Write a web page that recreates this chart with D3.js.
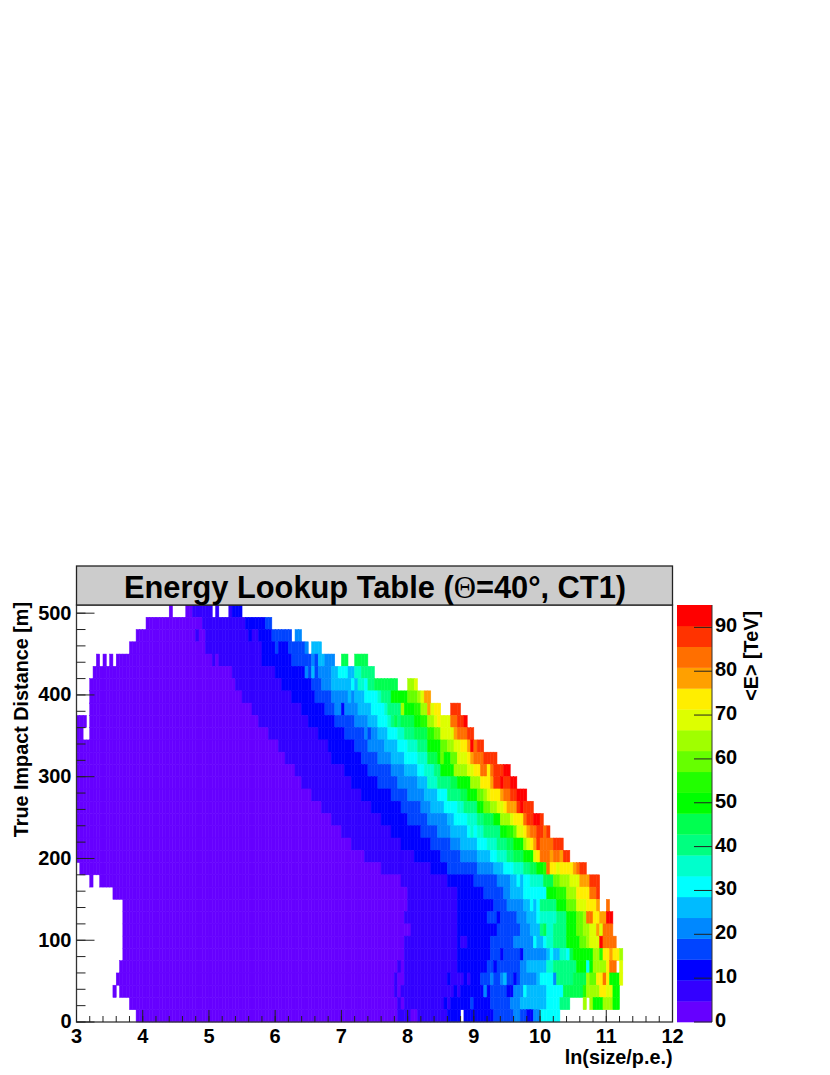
<!DOCTYPE html>
<html lang="en">
<meta charset="utf-8">
<style>
  html, body { margin: 0; background: #fff; }
  text { font-family: "Liberation Sans", Arial, sans-serif; font-weight: bold; fill: #000; }
</style>
<body>
<svg width="830" height="1075"></svg>
<script src="https://d3js.org/d3.v7.min.js"></script>
<script>
// title and axis text
let titleText = 'Energy Lookup Table ('
let titleAngle = 'Θ'
let titleRest = '=40°, CT1)'
let xTitle = 'ln(size/p.e.)'
let yTitle = 'True Impact Distance [m]'
let zTitle = '<E> [TeV]'

// ticks
let xMajor = [3, 4, 5, 6, 7, 8, 9, 10, 11, 12]
let xMinor = d3.range(3, 12.01, 0.2)
let yMajor = [0, 100, 200, 300, 400, 500]
let yMinor = d3.range(0, 501, 20)
let zMajor = [0, 10, 20, 30, 40, 50, 60, 70, 80, 90]

// colour steps of the palette, lowest first
let paletteSteps = ['#6600ff', '#3300ff', '#0000ff', '#0044ff', '#0088ff',
                    '#00bbff', '#00ffff', '#00ffcc', '#00ff80', '#00ff50',
                    '#00ff00', '#22ff00', '#66ff00', '#a0ff00', '#ddff00',
                    '#ffee00', '#ffa000', '#ff6f00', '#ff3300', '#ff0000']

let binWidth = 0.05    // ln(size) per column
let rowHeight = 15     // metres per row

// mean energy read row by row, from the top row (495-510 m) down to 0-15 m
// each row: first column, <E> in TeV, next column, <E>, ..., last column
// null means an empty stretch
let energyRuns = [
  [28,2,29,null,33,2,35,7,41,null,42,7,43,null,46,7,47,12,50],
  [21,2,38,7,51,12,57,17,59],
  [18,2,36,7,37,2,39,7,52,12,53,7,55,12,59,17,65,null,66,21,68],
  [16,2,39,7,56,12,60,17,61,12,64,17,69,21,70,null,71,26,74],
  [6,2,7,null,8,2,9,null,10,2,11,null,12,2,41,7,42,2,43,7,56,12,65,17,71,21,72,17,73,26,75,21,78,null,80,45,82,null,84,45,88],
  [5,2,47,7,60,12,69,21,70,17,71,26,72,17,73,21,77,26,79,31,82,26,84,36,86,40,90],
  [4,2,48,7,62,12,71,17,74,21,77,26,83,31,84,26,85,36,87,31,88,40,90,45,97,null,100,64,102,69,103],
  [4,2,50,7,65,12,72,17,77,21,82,26,83,21,84,26,87,31,91,36,92,40,95,50,100,59,103,64,104,69,105,78,107],
  [4,2,53,7,68,12,75,17,78,21,80,12,81,21,85,26,89,31,93,36,94,40,98,64,99,50,102,55,104,64,106,78,107,69,108,74,110,null,113,88,116],
  [0,2,3,null,4,2,55,7,70,12,78,17,84,21,88,26,91,31,94,36,95,40,96,45,97,40,98,45,102,50,104,55,106,64,108,69,109,74,110,69,113,83,115,88,117,93,118],
  [0,2,2,null,4,2,58,7,73,12,81,17,87,21,88,17,89,21,91,26,94,31,97,36,99,40,102,45,106,55,108,59,110,69,114,78,115,83,118,88,120],
  [0,2,61,7,76,12,84,17,88,21,93,26,97,31,100,36,103,40,106,50,110,59,112,64,114,69,116,74,118,78,119,93,120,83,121,88,123],
  [0,2,63,7,77,12,86,17,91,21,95,26,99,31,103,36,106,45,109,50,110,59,111,50,113,59,115,69,118,74,119,78,120,83,123,88,127],
  [0,2,66,7,81,12,88,17,95,21,99,26,103,31,105,36,108,40,110,50,114,64,118,69,120,74,122,83,124,74,125,83,126,88,129,93,131],
  [0,2,68,7,83,12,91,17,97,21,103,26,106,36,109,40,113,45,115,50,119,64,122,74,125,78,126,88,128,93,129,88,131,93,133],
  [0,2,71,7,86,12,95,17,100,21,105,26,109,31,112,40,116,45,118,50,121,59,123,64,124,69,125,74,128,78,129,83,131,88,133,93,136],
  [0,2,74,7,89,12,98,17,104,21,107,26,111,31,115,36,117,40,121,50,123,59,125,64,127,69,129,74,130,78,133,88,134,93,135,88,138],
  [0,2,77,7,92,12,100,17,106,21,112,26,114,31,118,36,121,40,123,45,126,50,128,64,131,69,132,74,135,83,136,88,138,93,140,88,141],
  [0,2,80,7,95,12,104,17,109,21,113,26,118,31,119,36,120,31,121,36,123,40,128,50,130,55,132,59,133,69,135,74,136,78,137,83,139,88,141,83,142,88,143],
  [0,2,83,7,98,12,107,17,113,21,116,26,121,31,124,36,127,40,130,45,132,50,135,64,136,69,137,74,138,78,139,88,140,83,144,88,147],
  [0,2,87,7,102,12,110,17,116,21,121,26,125,31,127,36,130,40,132,45,135,50,138,69,139,74,140,83,143,78,144,83,146,78,147,88,149],
  [1,2,92,7,107,12,112,17,121,21,126,26,129,31,132,36,135,40,137,45,139,50,141,55,142,83,143,74,145,69,146,74,150,78,151,83,152,88,154],
  [4,2,5,null,7,2,98,7,112,12,120,17,127,21,131,26,133,31,134,26,135,31,137,36,141,45,144,59,146,64,149,69,152,78,155,88,158],
  [11,2,100,7,115,12,123,17,129,21,131,26,135,31,142,50,145,55,148,64,151,74,155,83,157,88,158],
  [14,2,100,7,115,12,126,17,130,21,135,26,137,31,138,26,139,31,140,40,145,50,148,59,151,69,154,74,157,78,158,null,160,83,161],
  [14,2,99,7,115,12,124,17,127,12,128,17,133,21,136,26,139,31,140,36,145,40,148,50,151,59,153,64,154,83,156,74,158,78,160,93,162],
  [14,2,101,7,115,12,127,17,134,21,137,26,140,40,141,45,142,36,144,40,148,50,151,59,153,64,155,69,157,78,158,69,159,83,162],
  [14,2,99,7,115,12,116,7,118,12,125,17,132,21,138,31,139,26,141,31,142,36,144,40,148,50,152,59,154,64,155,69,158,93,159,83,163],
  [14,2,99,7,115,12,125,17,128,12,129,17,134,12,135,21,142,26,143,31,144,26,146,36,148,31,149,45,150,50,156,64,158,55,159,74,161,78,162,74,164,64,165],
  [13,2,97,7,98,2,99,7,115,12,124,17,126,12,127,17,134,21,136,26,142,36,144,40,151,50,154,31,155,50,156,64,160,74,161,83,163,null,164,69,165],
  [12,2,96,7,97,2,99,7,112,12,113,7,117,12,118,7,119,12,122,17,125,21,126,17,128,21,129,26,130,17,132,12,133,17,134,21,139,26,140,31,144,21,145,40,150,45,154,64,155,59,157,74,159,83,160,74,161,50,164,69,165],
  [11,2,12,null,13,2,96,7,97,2,98,7,114,12,115,7,116,12,123,21,124,12,125,17,130,12,132,21,135,31,136,26,142,31,147,45,153,55,154,64,158,74,160,69,162,50,164],
  [16,2,97,7,98,2,99,7,111,12,112,7,113,12,119,17,120,12,125,17,131,21,134,26,142,31,146,40,149,null,153,64,154,null,155,64,156,50,159,64,162,50,164],
  [18,2,97,7,101,2,103,7,112,12,116,null,117,12,126,17,132,21,134,17,136,12,138,21,140,31,146]
]

let svg = d3.select('svg')

let x = d3.scaleLinear().domain([3, 12]).range([76.5, 672.5])
let y = d3.scaleLinear().domain([0, 510]).range([1022, 605])
let z = d3.scaleLinear().domain([0, 95.1]).range([1022, 605])
let color = d3.scaleQuantize().domain([0, 95]).range(paletteSteps)

// one rect per bin, a thin same-colour stroke keeps the seams faint
let cells = []
energyRuns.forEach((runs, r) => {
  let lowEdge = (energyRuns.length - 1 - r) * rowHeight
  for (let i = 0; i + 2 < runs.length; i += 2) {
    if (runs[i + 1] === null) continue
    for (let c = runs[i]; c < runs[i + 2]; c++) {
      cells.push({ col: c, low: lowEdge, e: runs[i + 1] })
    }
  }
})

svg.append('g').selectAll('rect')
   .data(cells).enter()
   .append('rect')
   .attr('x', d => x(3 + d.col * binWidth))
   .attr('width', d => x(3 + (d.col + 1) * binWidth) - x(3 + d.col * binWidth))
   .attr('y', d => y(d.low + rowHeight))
   .attr('height', d => y(d.low) - y(d.low + rowHeight))
   .attr('fill', d => color(d.e))
   .attr('stroke', d => color(d.e))
   .attr('stroke-width', 0.5)

// plot frame
svg.append('rect')
   .attr('x', 76.5).attr('y', 605).attr('width', 596).attr('height', 417)
   .attr('fill', 'none').attr('stroke', '#333').attr('stroke-width', 1.3)

// title box
svg.append('rect')
   .attr('x', 76.5).attr('y', 566).attr('width', 596).attr('height', 39)
   .attr('fill', '#cccccc').attr('stroke', '#222').attr('stroke-width', 1.3)

let title = svg.append('text')
   .attr('x', 375).attr('y', 598)
   .attr('text-anchor', 'middle')
   .attr('font-size', 30.8)
title.append('tspan').text(titleText)
title.append('tspan').text(titleAngle)
     .attr('font-family', 'Liberation Serif').attr('font-weight', 'normal')
title.append('tspan').text(titleRest)

// axes
function tickGroup(axis, size, labels) {
  let g = svg.append('g').call(axis.tickSize(size).tickSizeOuter(0).offset(0))
  g.select('.domain').remove()
  g.selectAll('line').attr('stroke', '#222').attr('stroke-width', 1)
  if (!labels) g.selectAll('text').remove()
  return g
}

let fontTick = 20

tickGroup(d3.axisBottom(x).tickValues(xMinor), -6, false)
   .attr('transform', 'translate(0,1022)')
tickGroup(d3.axisBottom(x).tickValues(xMajor).tickPadding(9).tickFormat(d3.format('d')), -12, true)
   .attr('transform', 'translate(0,1022)')
   .selectAll('text').attr('font-size', fontTick).attr('dy', 12)

tickGroup(d3.axisLeft(y).tickValues(yMinor), -9, false)
   .attr('transform', 'translate(76.5,0)')
tickGroup(d3.axisLeft(y).tickValues(yMajor).tickPadding(5), -18, true)
   .attr('transform', 'translate(76.5,0)')
   .selectAll('text').attr('font-size', fontTick)

svg.append('text')
   .attr('x', 672.5).attr('y', 1064)
   .attr('text-anchor', 'end').attr('font-size', 19.8)
   .text(xTitle)
svg.append('text')
   .attr('transform', 'translate(28,602) rotate(-90)')
   .attr('text-anchor', 'end').attr('font-size', 19.8)
   .text(yTitle)

// colour bar
let barX0 = 677, barX1 = 712
svg.append('g').selectAll('rect')
   .data(paletteSteps).enter()
   .append('rect')
   .attr('x', barX0)
   .attr('width', barX1 - barX0)
   .attr('y', (d, i) => z((i + 1) * 4.755))
   .attr('height', z(0) - z(4.755) + 0.3)
   .attr('fill', d => d)

svg.append('line')
   .attr('x1', barX1).attr('x2', barX1).attr('y1', 605).attr('y2', 1022)
   .attr('stroke', '#333').attr('stroke-width', 1)

// ticks of the bar point back into it
tickGroup(d3.axisRight(z).tickValues(zMajor).tickPadding(3).tickFormat(d3.format('d')), -18, true)
   .attr('transform', `translate(${barX1},0)`)
   .selectAll('text').attr('font-size', fontTick).attr('dy', '.25em')

svg.append('text')
   .attr('transform', 'translate(758,611) rotate(-90)')
   .attr('text-anchor', 'end').attr('font-size', 19.8)
   .text(zTitle)
</script>
</body>
</html>
